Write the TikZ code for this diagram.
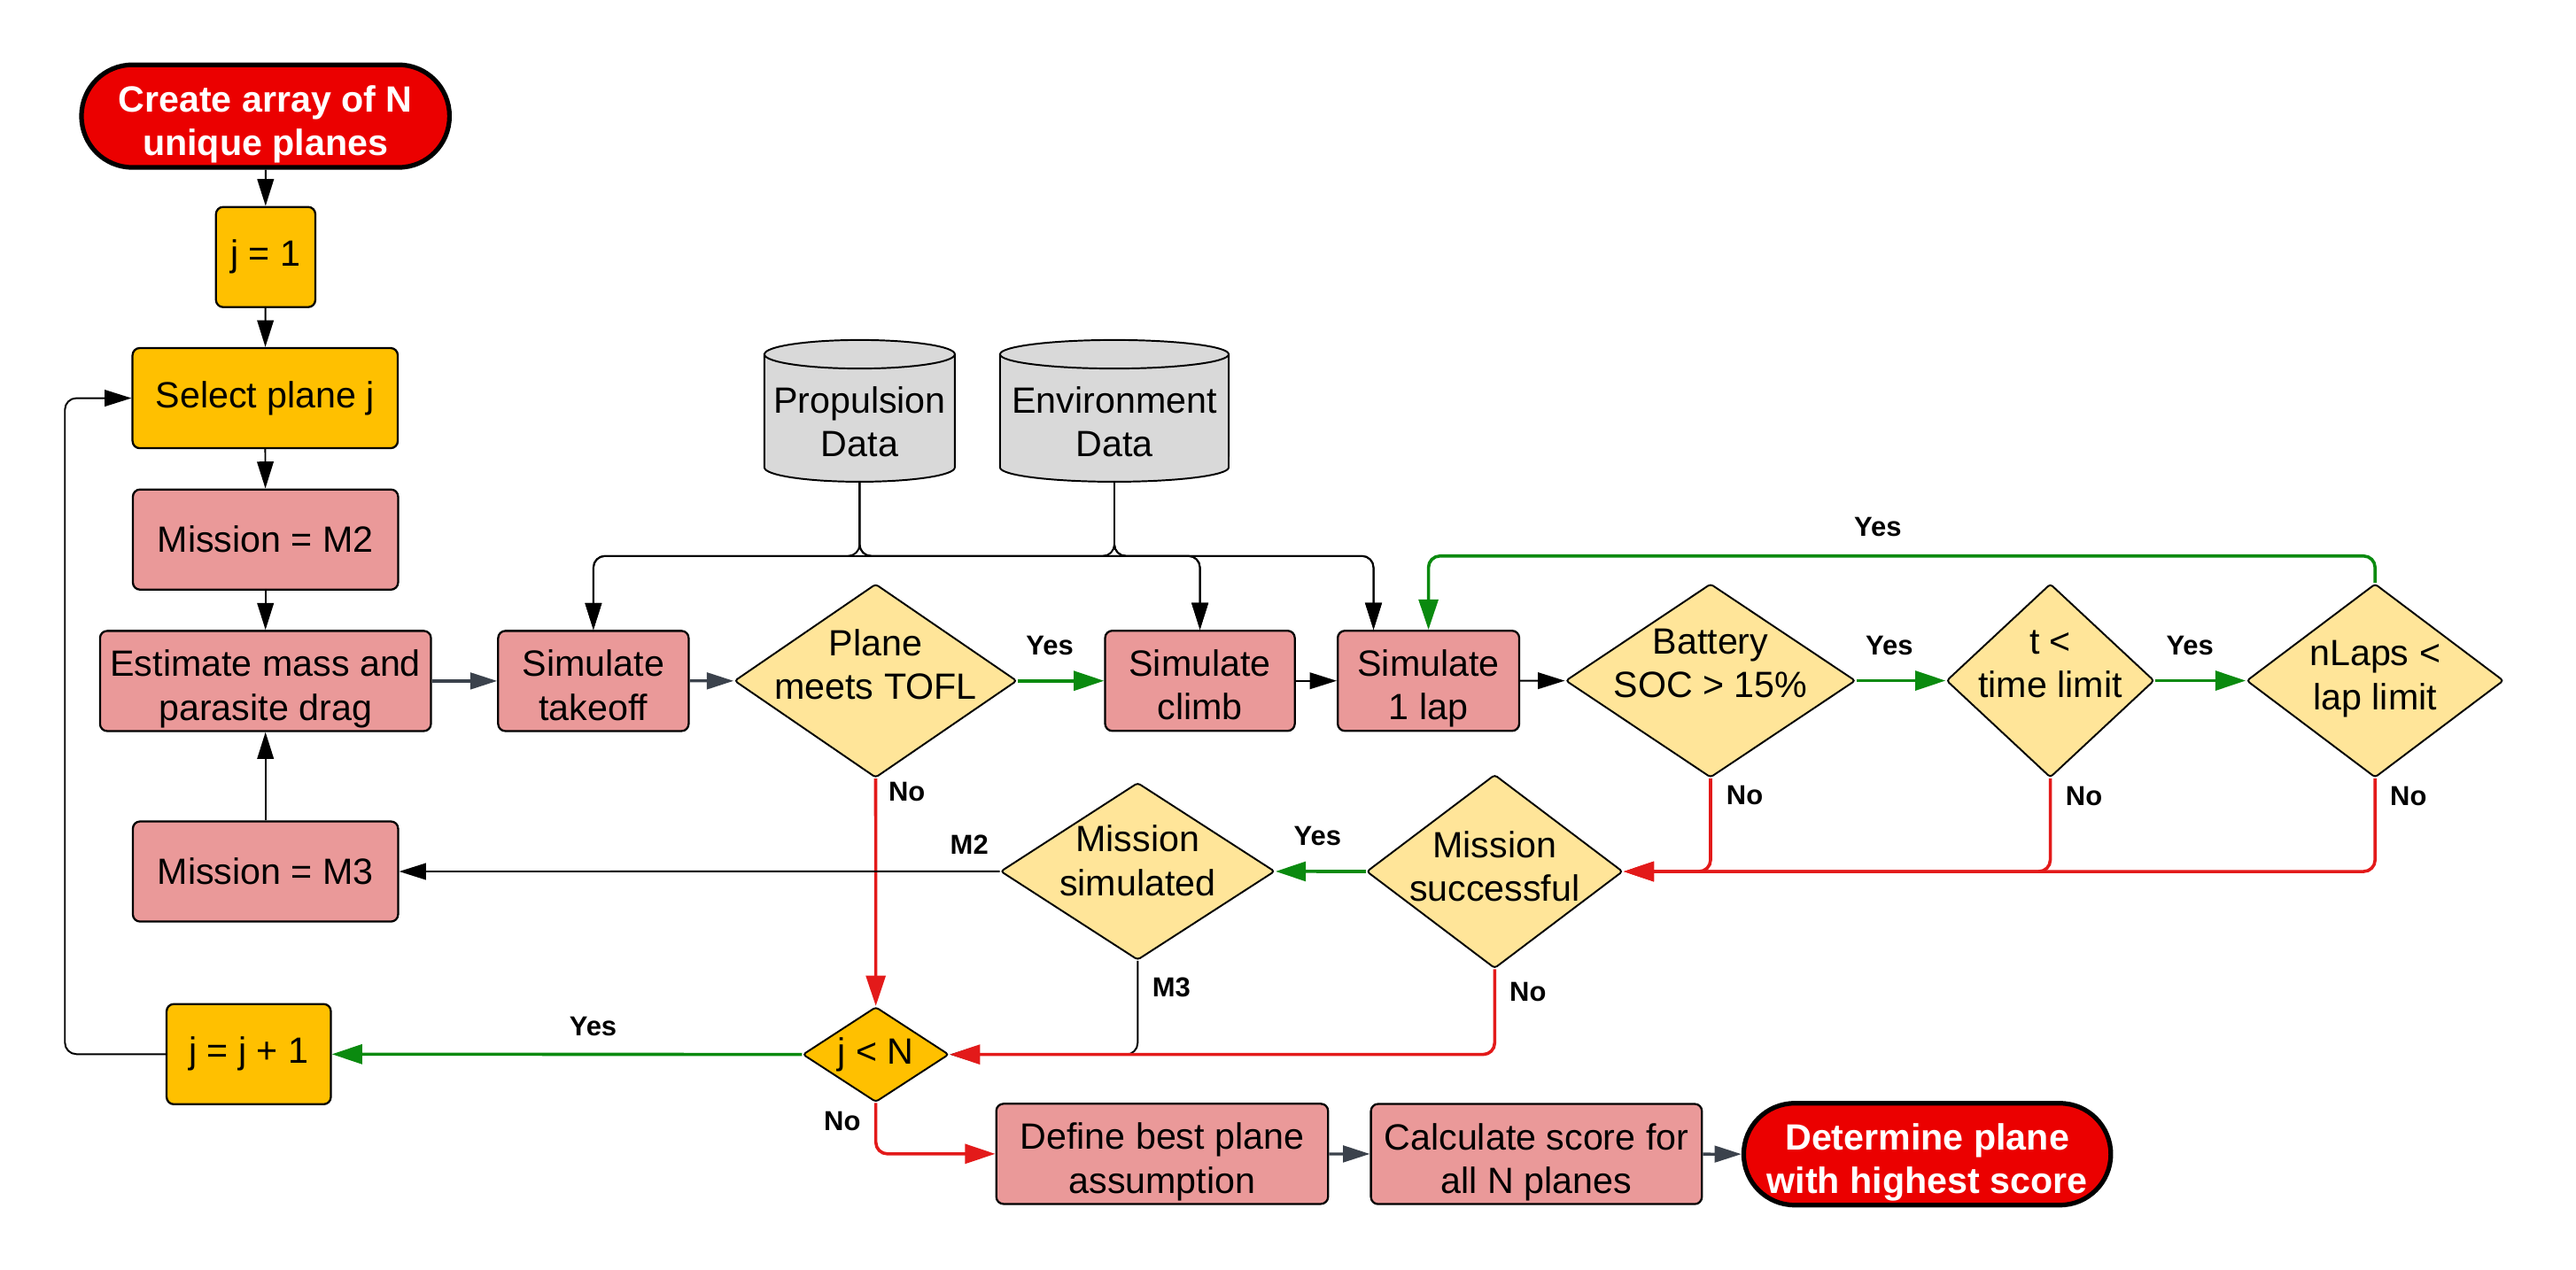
\documentclass[tikz,border=0pt]{standalone}
\usepackage{fontspec}
\setmainfont{Liberation Sans}
\usetikzlibrary{arrows.meta,shapes.geometric,calc}
\definecolor{pillred}{HTML}{EB0000}
\definecolor{goldc}{HTML}{FFC000}
\definecolor{pinkc}{HTML}{EA9999}
\definecolor{lightyel}{HTML}{FFE599}
\definecolor{cylgray}{HTML}{D9D9D9}
\definecolor{greenc}{HTML}{0A8A0F}
\definecolor{redc}{HTML}{E31A1A}
\definecolor{slatec}{HTML}{3B424C}
\newcommand\topstrut{\rule{0pt}{1.2em}}
\newcommand\botstrut{\rule[-0.25em]{0pt}{0pt}}
\begin{document}
\begin{tikzpicture}[x=0.02cm,y=-0.02cm,
  font=\fontsize{12.65}{15.1}\selectfont,
  box/.style={draw=black, line width=0.7pt, rounded corners=2.5pt, align=center, inner sep=0pt, minimum height=1.22cm},
  goldbox/.style={box, fill=goldc},
  pinkbox/.style={box, fill=pinkc},
  pill/.style={draw=black, line width=1.6pt, fill=pillred, text=white, font=\fontsize{12.65}{15.1}\selectfont\bfseries, align=center, inner sep=0pt, minimum height=1.25cm, rounded corners=0.62cm},
  dec/.style={diamond, draw=black, line width=0.6pt, fill=lightyel, inner sep=0pt, rounded corners=1pt},
  dtext/.style={align=center, font=\fontsize{12.65}{15.1}\selectfont, inner sep=0pt},
  cylnode/.style={draw=none, inner sep=0pt, outer sep=0pt, minimum height=1.726cm},
  cyl/.style={draw=black, line width=0.6pt, fill=cylgray},
  lbl/.style={font=\fontsize{9.5}{11}\selectfont\bfseries, inner sep=0pt},
  blk/.style={draw=black, line width=0.6pt, -{Triangle[length=9.3pt,width=5.7pt]}},
  slate/.style={draw=slatec, line width=1pt, -{Triangle[length=9.3pt,width=5.7pt]}},
  yes/.style={draw=greenc, line width=1.1pt, -{Triangle[length=10.5pt,width=6.7pt]}},
  nope/.style={draw=redc, line width=1.1pt, -{Triangle[length=10.5pt,width=6.7pt]}},
  rc/.style={rounded corners=4pt}
]
\useasboundingbox (0,0) rectangle (1568,773);

% data stores
\draw[cyl] (465.3,215.7) -- (465.3,284.6) arc[start angle=180,end angle=360,x radius=1.159cm,y radius=0.174cm] -- (581.2,215.7) arc[start angle=0,end angle=180,x radius=1.159cm,y radius=0.174cm] -- cycle;
\draw[cyl, fill=none] (465.3,215.7) arc[start angle=180,end angle=360,x radius=1.159cm,y radius=0.174cm];
\draw[cyl] (608.7,215.7) -- (608.7,284.6) arc[start angle=180,end angle=360,x radius=1.392cm,y radius=0.174cm] -- (747.9,215.7) arc[start angle=0,end angle=180,x radius=1.392cm,y radius=0.174cm] -- cycle;
\draw[cyl, fill=none] (608.7,215.7) arc[start angle=180,end angle=360,x radius=1.392cm,y radius=0.174cm];
\node[cylnode, minimum width=2.32cm, label={[dtext,yshift=-0.133cm]center:Propulsion\\Data}] (prop) at (523.25,250.15) {};
\node[cylnode, minimum width=2.78cm, label={[dtext,yshift=-0.133cm]center:Environment\\Data}] (env) at (678.3,250.15) {};

% nodes
\node[pill, minimum width=4.48cm] (start) at (161.6,70.7) {\topstrut Create array of N\\unique planes\botstrut};
\node[goldbox, minimum width=1.21cm] (j1) at (161.7,156.5) {j = 1};
\node[goldbox, minimum width=3.23cm] (sel) at (161.4,242.4) {Select plane j};
\node[pinkbox, minimum width=3.23cm] (m2) at (161.6,328.5) {Mission = M2};
\node[pinkbox, minimum width=4.03cm] (est) at (161.6,414.6) {\topstrut Estimate mass and\\parasite drag\botstrut};
\node[pinkbox, minimum width=3.23cm] (m3) at (161.6,530.6) {Mission = M3};
\node[goldbox, minimum width=2.0cm] (jinc) at (151.4,641.8) {j = j + 1};
\node[pinkbox, minimum width=2.32cm] (takeoff) at (361.2,414.6) {\topstrut Simulate\\takeoff\botstrut};
\node[dec, minimum width=3.44cm, minimum height=2.36cm, label={[dtext,yshift=0.2cm]center:Plane\\meets TOFL}] (tofl) at (533,414.5) {};
\node[pinkbox, minimum width=2.31cm] (climb) at (730.4,414.5) {\topstrut Simulate\\climb\botstrut};
\node[pinkbox, minimum width=2.21cm] (lap) at (869.5,414.5) {\topstrut Simulate\\1 lap\botstrut};
\node[dec, minimum width=3.53cm, minimum height=2.36cm, label={[dtext,yshift=0.21cm]center:Battery\\SOC > 15\%}] (batt) at (1041.2,414.4) {};
\node[dec, minimum width=2.53cm, minimum height=2.36cm, label={[dtext,yshift=0.2cm]center:t <\\time limit}] (tlim) at (1248,414.4) {};
\node[dec, minimum width=3.13cm, minimum height=2.36cm, label={[dtext,yshift=0.02cm]center:nLaps <\\lap limit}] (nlaps) at (1445.7,414.4) {};
\node[dec, minimum width=3.12cm, minimum height=2.36cm, label={[dtext,yshift=0.06cm]center:Mission\\successful}] (succ) at (909.8,530.6) {};
\node[dec, minimum width=3.34cm, minimum height=2.16cm, label={[dtext,yshift=0.13cm]center:Mission\\simulated}] (sim) at (692.5,530.5) {};
\node[dec, fill=goldc, minimum width=1.78cm, minimum height=1.16cm, label={[dtext]center:j < N}] (jn) at (533.1,642) {};
\node[pinkbox, minimum width=4.04cm] (define) at (707.4,702.5) {\topstrut Define best plane\\assumption\botstrut};
\node[pinkbox, minimum width=4.03cm] (calc) at (935.2,702.6) {\topstrut Calculate score for\\all N planes\botstrut};
\node[pill, minimum width=4.47cm, minimum height=1.24cm] (endp) at (1173.1,702.7) {\topstrut Determine plane\\with highest score\botstrut};

\coordinate (lapin) at ($(lap.north west)+(22.4,0)$);

% main flow
\draw[blk] (start) -- (j1);
\draw[blk] (j1) -- (sel);
\draw[blk] (sel) -- (m2);
\draw[blk] (m2) -- (est);
\draw[blk] (m3) -- (est);
\draw[slate] (est) -- (takeoff);
\draw[slate] (takeoff) -- (tofl);
\draw[yes] (tofl) -- (climb);
\draw[blk] (climb) -- (lap);
\draw[blk] (lap) -- (batt);
\draw[yes] (batt) -- (tlim);
\draw[yes] (tlim) -- (nlaps);
\draw[yes, rc] (nlaps.north) -- (nlaps.north |- 0,338.5) -- (lap.north |- 0,338.5) -- (lap.north);

% data inputs
\draw[blk, rc] (prop.south) |- (takeoff.north |- 0,338.5) -- (takeoff.north);
\draw[blk, rc] (prop.south) |- (climb.north |- 0,338.5) -- (climb.north);
\draw[blk, rc] (prop.south) |- (lapin |- 0,338.5) -- (lapin);
\draw[blk, rc] (env.south) |- (takeoff.north |- 0,338.5) -- (takeoff.north);
\draw[blk, rc] (env.south) |- (climb.north |- 0,338.5) -- (climb.north);
\draw[blk, rc] (env.south) |- (lapin |- 0,338.5) -- (lapin);

% failure branches
\draw[nope] (tofl.south) -- (jn.north);
\draw[nope, rc] (batt.south) |- (succ.east);
\draw[nope, rc] (tlim.south) |- (succ.east);
\draw[nope, rc] (nlaps.south) |- (succ.east);
\draw[yes] (succ) -- (sim);
\draw[blk] (sim) -- (m3);
\draw[blk, rc] (sim.south) |- (jn.east);
\draw[nope, rc] (succ.south) |- (jn.east);
\draw[yes] (jn) -- (jinc);
\draw[blk, rc] (jinc.west) -| (39.5,400) |- (sel.west);
\draw[nope, rc] (jn.south) |- (define.west);
\draw[slate] (define) -- (calc);
\draw[slate] (calc) -- (endp);

% labels
\node[lbl] at (639,393) {Yes};
\node[lbl] at (1150,393) {Yes};
\node[lbl] at (1333,393) {Yes};
\node[lbl] at (1143,321) {Yes};
\node[lbl] at (552,482) {No};
\node[lbl] at (1062,484) {No};
\node[lbl] at (1268.5,484.5) {No};
\node[lbl] at (1466,484.5) {No};
\node[lbl] at (802,509) {Yes};
\node[lbl] at (590,514) {M2};
\node[lbl] at (713,601) {M3};
\node[lbl] at (930,604) {No};
\node[lbl] at (361,625) {Yes};
\node[lbl] at (512.7,682.5) {No};
\end{tikzpicture}
\end{document}
